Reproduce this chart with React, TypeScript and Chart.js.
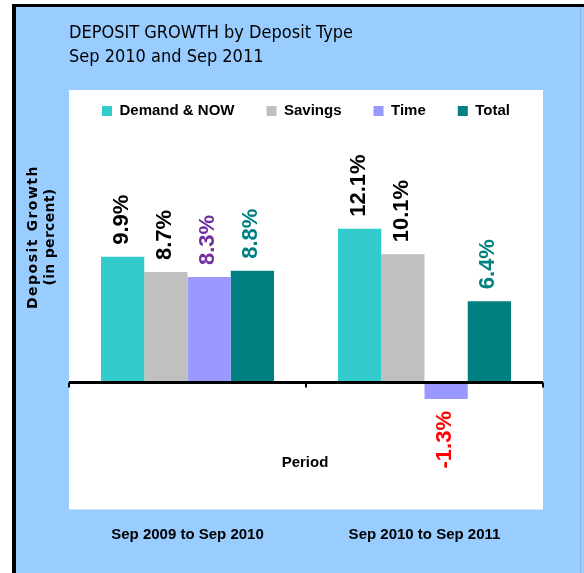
import React, { useEffect, useRef } from 'react';
import { Chart, registerables } from 'chart.js';

Chart.register(...registerables);

// ---- data ----
const categories = ['Sep 2009 to Sep 2010', 'Sep 2010 to Sep 2011'];
const seriesNames = ['Demand & NOW', 'Savings', 'Time', 'Total'];
const demandNow = [9.9, 12.1];
const savings = [8.7, 10.1];
const time = [8.3, -1.3];
const total = [8.8, 6.4];
const seriesColors = ['#33CCCC', '#C0C0C0', '#9999FF', '#008080'];
const labelColors = ['#000000', '#000000', '#7030A0', '#008080'];
const negativeLabelColor = '#FF0000';
const titleLines = ['DEPOSIT GROWTH by Deposit Type', 'Sep 2010 and Sep 2011'];
const yTitleLines = ['Deposit Growth', '(in percent)'];
const xTitle = 'Period';
const yMin = -10;
const yMax = 20;

// ---- styling constants ----
const PLOT_TOP = 90;
const LABEL_GAP = 12;
const ARIAL = '"Liberation Sans", Arial, sans-serif';
const VERDANA = '"DejaVu Sans", Verdana, sans-serif';

const decorPlugin = {
  id: 'decor',
  beforeDraw(chart: any) {
    const { ctx, chartArea } = chart;
    ctx.save();
    ctx.fillStyle = '#FFFFFF';
    ctx.fillRect(chartArea.left, PLOT_TOP, chartArea.right - chartArea.left, chartArea.bottom - PLOT_TOP);
    ctx.restore();
  },
  afterDatasetsDraw(chart: any) {
    const { ctx } = chart;
    ctx.save();
    ctx.font = `bold 22px ${ARIAL}`;
    ctx.textBaseline = 'middle';
    chart.data.datasets.forEach((ds: any, di: number) => {
      const meta = chart.getDatasetMeta(di);
      meta.data.forEach((bar: any, i: number) => {
        const v = ds.data[i] as number;
        const neg = v < 0;
        const text = `${v.toFixed(1)}%`;
        ctx.save();
        ctx.fillStyle = neg ? negativeLabelColor : labelColors[di];
        ctx.translate(bar.x - 1, neg ? bar.y + LABEL_GAP : bar.y - LABEL_GAP);
        ctx.rotate(-Math.PI / 2);
        ctx.textAlign = neg ? 'right' : 'left';
        ctx.fillText(text, 0, 0);
        ctx.restore();
      });
    });
    ctx.restore();
  },
  afterDraw(chart: any) {
    const { ctx, chartArea } = chart;
    const xScale = chart.scales.x;
    const yScale = chart.scales.y;
    const zeroY = yScale.getPixelForValue(0);
    ctx.save();
    // small tick marks on the category axis
    ctx.fillStyle = '#000000';
    const n = categories.length;
    const w = (chartArea.right - chartArea.left) / n;
    for (let i = 0; i <= n; i++) {
      const x = i < n ? xScale.getPixelForTick(i) - w / 2 : xScale.getPixelForTick(n - 1) + w / 2;
      ctx.fillRect(Math.round(x) - 1, zeroY, 2, 5);
    }
    // x axis title (inside plot area)
    ctx.font = `bold 15px ${ARIAL}`;
    ctx.textAlign = 'center';
    ctx.textBaseline = 'middle';
    ctx.fillText(xTitle, (chartArea.left + chartArea.right) / 2 - 1, chartArea.bottom - 46.5);
    // y axis title (rotated, two lines)
    ctx.font = `bold 14px ${VERDANA}`;
    const xs = [33.5, 50.5];
    const spacing = ['1.5px', '0.3px'];
    yTitleLines.forEach((line, i) => {
      ctx.save();
      try { (ctx as any).letterSpacing = spacing[i]; } catch (e) { /* ignore */ }
      ctx.translate(xs[i], 237);
      ctx.rotate(-Math.PI / 2);
      ctx.fillText(line, 0, 0);
      ctx.restore();
    });
    ctx.restore();
  },
};

export default function App() {
  const canvasRef = useRef<HTMLCanvasElement | null>(null);

  useEffect(() => {
    if (!canvasRef.current) return;
    const seriesData = [demandNow, savings, time, total];
    const chart = new Chart(canvasRef.current, {
      type: 'bar',
      data: {
        labels: categories,
        datasets: seriesNames.map((name, i) => ({
          label: name,
          data: seriesData[i],
          backgroundColor: seriesColors[i],
          borderColor: seriesColors[i],
          borderWidth: 0,
          barPercentage: 1,
          categoryPercentage: 0.73,
        })),
      },
      options: {
        responsive: false,
        animation: false,
        events: [],
        layout: { padding: { top: 20, left: 69, right: 41, bottom: 21.5 } },
        plugins: {
          title: {
            display: true,
            text: titleLines,
            align: 'start',
            color: '#000000',
            font: { family: '"DejaVu Sans Condensed", "DejaVu Sans", sans-serif', size: 18, weight: 'normal', lineHeight: 23.5 / 18 },
            padding: { top: 1.75, bottom: 2.75 },
          },
          legend: {
            display: true,
            position: 'top',
            align: 'center',
            labels: {
              boxWidth: 10,
              boxHeight: 10,
              padding: 32,
              color: '#000000',
              font: { family: ARIAL, size: 15, weight: 'bold' },
            },
          },
          tooltip: { enabled: false },
        },
        scales: {
          x: {
            type: 'category',
            grid: { display: false },
            border: { display: false },
            ticks: {
              color: '#000000',
              font: { family: ARIAL, size: 15, weight: 'bold' },
              padding: 8,
              maxRotation: 0,
              autoSkip: false,
            },
          },
          y: {
            min: yMin,
            max: yMax,
            border: { display: false },
            ticks: { display: false, stepSize: 5 },
            grid: {
              z: 1,
              drawTicks: false,
              color: (c: any) => (c.tick && c.tick.value === 0 ? '#000000' : 'rgba(0,0,0,0)'),
              lineWidth: (c: any) => (c.tick && c.tick.value === 0 ? 3 : 0),
            },
          },
        },
      },
      plugins: [decorPlugin],
    } as any);
    return () => chart.destroy();
  }, []);

  return (
    <div style={{ position: 'absolute', left: 0, top: 0, width: 584, height: 573, background: '#FFFFFF', overflow: 'hidden' }}>
      <div
        style={{
          position: 'absolute',
          left: 12,
          top: 4,
          right: 0,
          bottom: 0,
          background: '#99CCFF',
          borderLeft: '4px solid #000000',
          borderTop: '3px solid #000000',
        }}
      />
      <div style={{ position: 'absolute', left: 580, top: 7, width: 1, bottom: 0, background: '#86B2E4' }} />
      <canvas ref={canvasRef} width={584} height={573} style={{ position: 'absolute', left: 0, top: 0 }} />
    </div>
  );
}
